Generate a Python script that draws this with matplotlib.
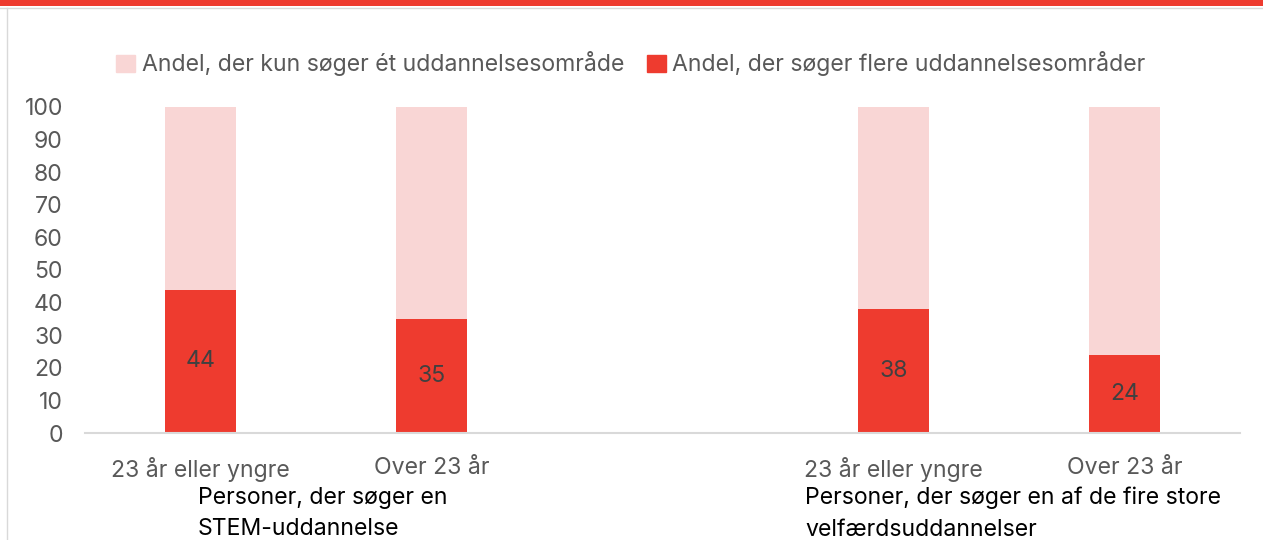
import numpy as np
import matplotlib.pyplot as plt
from matplotlib.lines import Line2D
from matplotlib.patches import Rectangle

plt.rcParams['font.family'] = ['Inter', 'DejaVu Sans']

categories = ["23 år eller yngre", "Over 23 år", "", "23 år eller yngre", "Over 23 år"]
flere = [44, 35, np.nan, 38, 24]
kun = [56, 65, np.nan, 62, 76]
group_labels = ["Personer, der søger en\nSTEM-uddannelse",
                "Personer, der søger en af de fire store\nvelfærdsuddannelser"]
series_names = ["Andel, der kun søger ét uddannelsesområde",
                "Andel, der søger flere uddannelsesområder"]

red = "#EE3B2F"
pink = "#F9D6D5"
grey_txt = "#595959"
fs = 16.6

fig = plt.figure(figsize=(12.63, 5.40), dpi=100)
ax = fig.add_axes([85 / 1263, 1 - 433 / 540, 1155 / 1263, 326 / 540])

x = np.arange(len(categories))
w = 0.31
ax.bar(x, flere, w, color=red, label=series_names[1], zorder=2)
ax.bar(x, kun, w, bottom=flere, color=pink, label=series_names[0], zorder=2)

for xi, v in zip(x, flere):
    if not np.isnan(v):
        ax.text(xi, v / 2, f"{v:.0f}", ha="center", va="center", fontsize=fs, color="#404040")

ax.set_xlim(-0.5, len(categories) - 0.5)
ax.set_ylim(0, 100)
ax.set_yticks(range(0, 101, 10))
ax.set_xticks(x)
ax.set_xticklabels(categories)
ax.tick_params(axis="both", length=0, labelsize=fs, colors=grey_txt)
ax.tick_params(axis="x", pad=17)
ax.tick_params(axis="y", pad=16)
for s in ["top", "right", "left"]:
    ax.spines[s].set_visible(False)
ax.spines["bottom"].set_color("#D9D9D9")
ax.spines["bottom"].set_linewidth(1.5)

# group labels under the category labels
ax.text(-0.011, -0.165, group_labels[0], transform=ax.get_xaxis_transform(),
        ha="left", va="top", fontsize=fs, color="black", linespacing=1.55)
ax.text(2.617, -0.165, group_labels[1], transform=ax.get_xaxis_transform(),
        ha="left", va="top", fontsize=fs, color="black", linespacing=1.55)

handles = [Rectangle((0, 0), 1, 1, color=pink), Rectangle((0, 0), 1, 1, color=red)]
fig.legend(handles, series_names, loc="center", bbox_to_anchor=(631 / 1263, 1 - 64 / 540),
           ncol=2, frameon=False, fontsize=fs, labelcolor=grey_txt, handlelength=0.8,
           handleheight=0.8, handletextpad=0.3, columnspacing=1.0)

# frame decoration: red band on top, thin grey lines
fig.add_artist(Rectangle((0, 1 - 6 / 540), 1, 6 / 540, transform=fig.transFigure,
                         color=red, lw=0))
fig.add_artist(Line2D([0, 1], [1 - 8 / 540] * 2, transform=fig.transFigure,
                      color="#D9D9D9", lw=1))
fig.add_artist(Line2D([7 / 1263] * 2, [0, 1 - 8 / 540], transform=fig.transFigure,
                      color="#D9D9D9", lw=1))

fig.savefig("out.png", dpi=100)
